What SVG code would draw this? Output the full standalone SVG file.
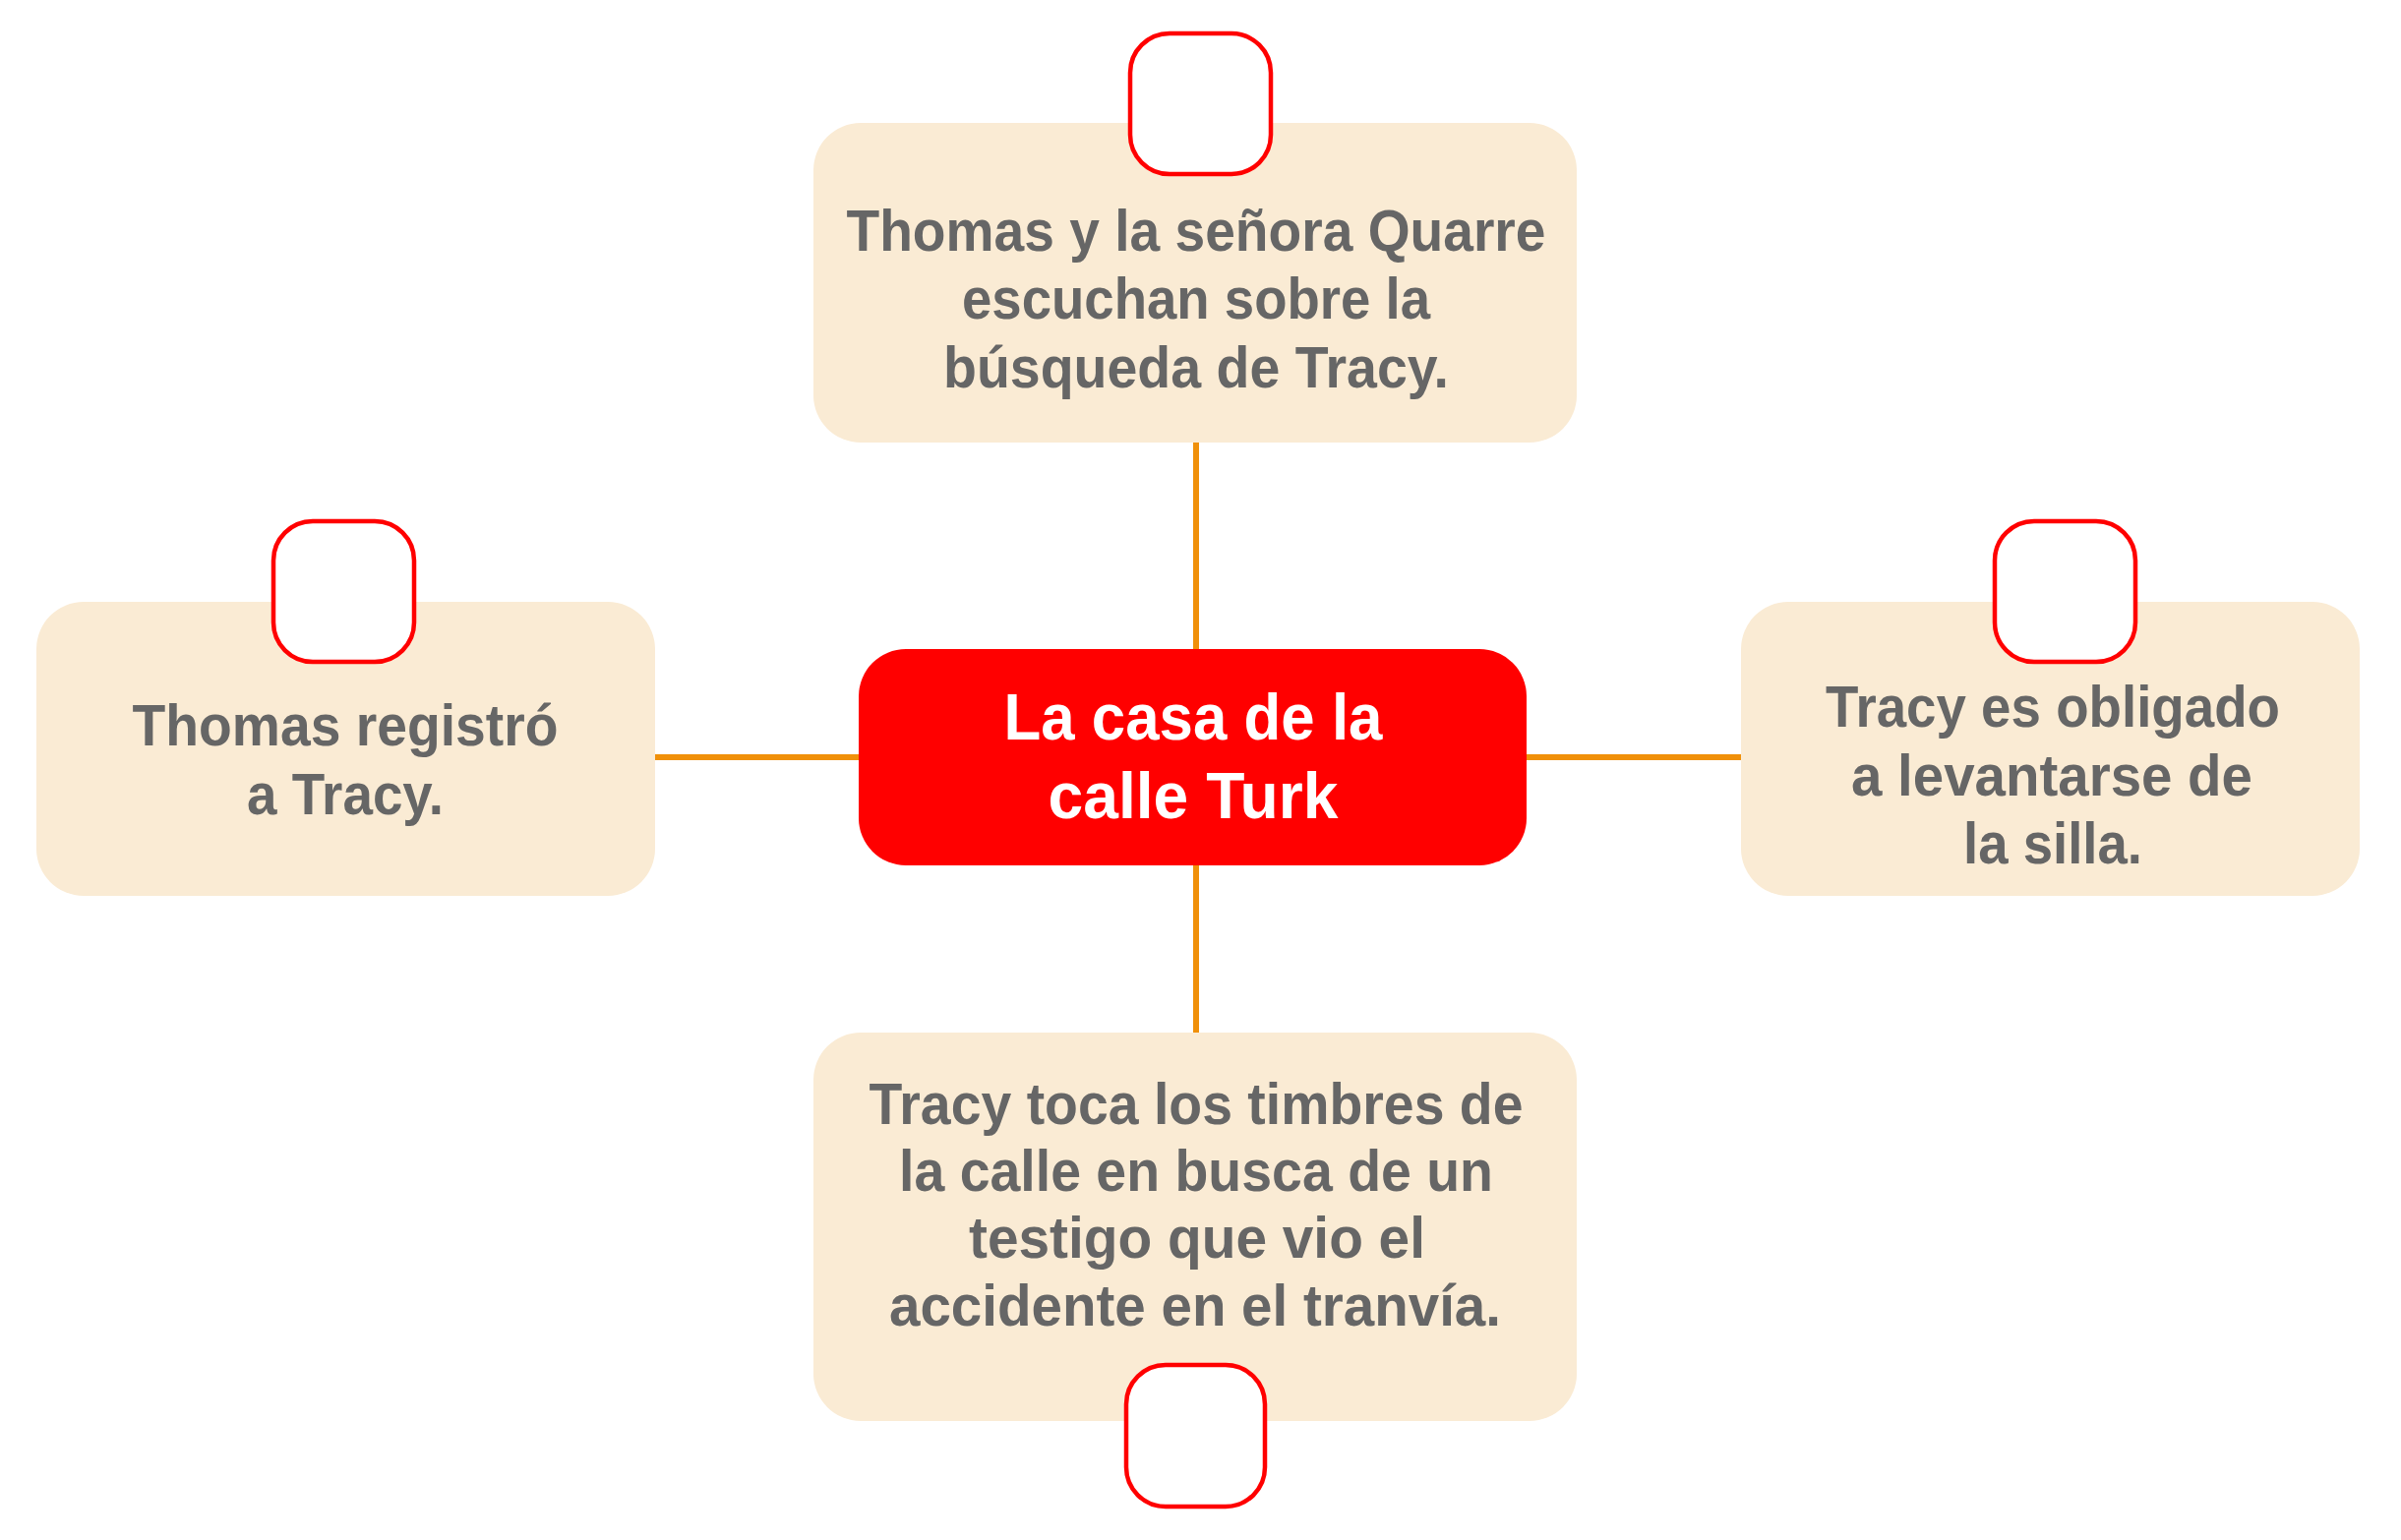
<svg xmlns="http://www.w3.org/2000/svg" width="2441" height="1566" viewBox="0 0 2441 1566">
<style>
.box{fill:#FAEBD4;}
.center{fill:#FF0000;}
.badge{fill:#FFFFFF;stroke:#FF0000;stroke-width:4.5;}
.conn{stroke:#F0900A;stroke-width:6;fill:none;}
.t{font-family:"Liberation Sans Narrow","Liberation Sans",Arial,sans-serif;font-weight:bold;font-size:60px;fill:#666666;text-anchor:middle;}
.tc{font-family:"Liberation Sans Narrow","Liberation Sans",Arial,sans-serif;font-weight:bold;font-size:66px;fill:#FFFFFF;text-anchor:middle;}
</style>
<rect width="2441" height="1566" fill="#FFFFFF"/>
<g id="connectors">
<line class="conn" x1="1216" y1="450" x2="1216" y2="662"/>
<line class="conn" x1="1216" y1="878" x2="1216" y2="1050"/>
<line class="conn" x1="666" y1="770" x2="875" y2="770"/>
<line class="conn" x1="1550" y1="770" x2="1771" y2="770"/>
</g>
<g id="node-top">
<rect class="box" x="827" y="125" width="776" height="325" rx="48"/>
<rect class="badge" x="1149" y="34" width="143" height="143" rx="40"/>
<text class="t" x="1216" y="255" textLength="711" lengthAdjust="spacingAndGlyphs">Thomas y la señora Quarre</text>
<text class="t" x="1216" y="324" textLength="476" lengthAdjust="spacingAndGlyphs">escuchan sobre la</text>
<text class="t" x="1216" y="394" textLength="514" lengthAdjust="spacingAndGlyphs">búsqueda de Tracy.</text>
</g>
<g id="node-center">
<rect class="center" x="873" y="660" width="679" height="220" rx="48"/>
<text class="tc" x="1213" y="752" textLength="385" lengthAdjust="spacingAndGlyphs">La casa de la</text>
<text class="tc" x="1213" y="832" textLength="295" lengthAdjust="spacingAndGlyphs">calle Turk</text>
</g>
<g id="node-left">
<rect class="box" x="37" y="612" width="629" height="299" rx="48"/>
<rect class="badge" x="278" y="530" width="143" height="143" rx="40"/>
<text class="t" x="351" y="758" textLength="433" lengthAdjust="spacingAndGlyphs">Thomas registró</text>
<text class="t" x="351" y="828" textLength="200" lengthAdjust="spacingAndGlyphs">a Tracy.</text>
</g>
<g id="node-right">
<rect class="box" x="1770" y="612" width="629" height="299" rx="48"/>
<rect class="badge" x="2028" y="530" width="143" height="143" rx="40"/>
<text class="t" x="2087" y="739" textLength="462" lengthAdjust="spacingAndGlyphs">Tracy es obligado</text>
<text class="t" x="2086" y="809" textLength="408" lengthAdjust="spacingAndGlyphs">a levantarse de</text>
<text class="t" x="2087" y="878" textLength="182" lengthAdjust="spacingAndGlyphs">la silla.</text>
</g>
<g id="node-bottom">
<rect class="box" x="827" y="1050" width="776" height="395" rx="48"/>
<rect class="badge" x="1145" y="1388" width="141" height="144" rx="40"/>
<text class="t" x="1216" y="1143" textLength="665" lengthAdjust="spacingAndGlyphs">Tracy toca los timbres de</text>
<text class="t" x="1216" y="1211" textLength="604" lengthAdjust="spacingAndGlyphs">la calle en busca de un</text>
<text class="t" x="1217" y="1279" textLength="464" lengthAdjust="spacingAndGlyphs">testigo que vio el</text>
<text class="t" x="1215" y="1348" textLength="622" lengthAdjust="spacingAndGlyphs">accidente en el tranvía.</text>
</g>
</svg>
